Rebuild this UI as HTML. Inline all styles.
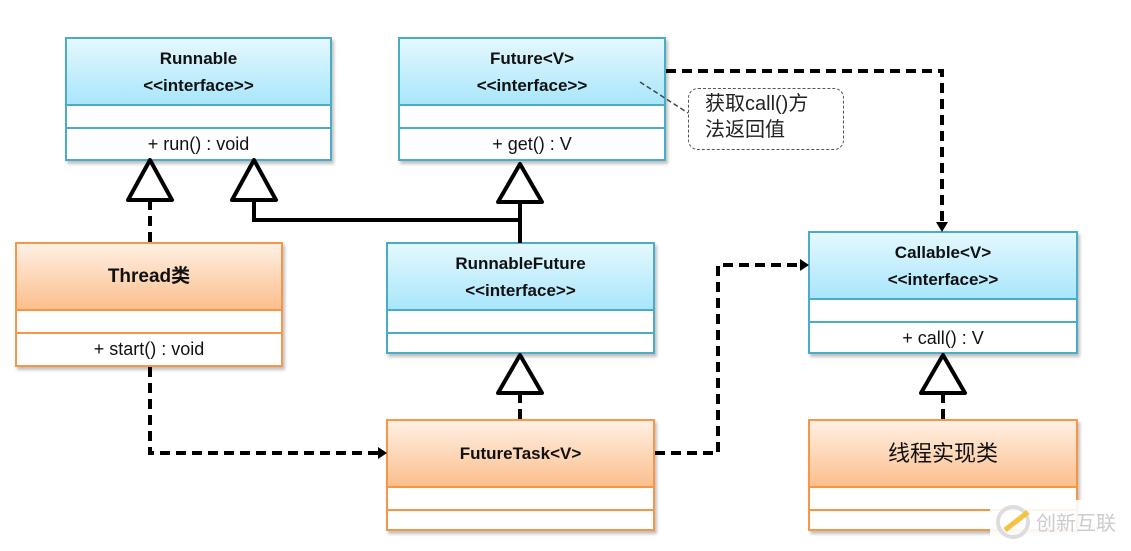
<!DOCTYPE html>
<html><head><meta charset="utf-8"><style>
body{margin:0;width:1131px;height:551px;background:#fff;position:relative;overflow:hidden;font-family:"Liberation Sans","Noto Sans CJK SC",sans-serif}
.b{position:absolute;box-sizing:border-box;border:2px solid #4bacc6;box-shadow:2px 3px 3px rgba(0,0,0,.25);background:#fff}
.b.o{border-color:#f79646}
.h{box-sizing:border-box;background:linear-gradient(#e4f8fe,#a9e6fb);border-bottom:2px solid #4bacc6;display:flex;flex-direction:column;justify-content:center;align-items:center;font-weight:bold;font-size:17px;line-height:27px;color:#111}
.o .h{background:linear-gradient(#fff0e4,#fbbf8d);border-bottom-color:#f79646}
.e{box-sizing:border-box;border-bottom:2px solid #4bacc6}
.o .e{border-bottom-color:#f79646}
.m{text-align:center;font-size:18px;color:#111;line-height:30px}
</style></head><body>
<div class="b" style="left:65px;top:37px;width:267px;height:124px"><div class="h" style="height:67px">Runnable<span>&lt;&lt;interface&gt;&gt;</span></div><div class="e" style="height:23px"></div><div class="m">+ run() : void</div></div>
<div class="b" style="left:398px;top:37px;width:268px;height:124px"><div class="h" style="height:67px">Future&lt;V&gt;<span>&lt;&lt;interface&gt;&gt;</span></div><div class="e" style="height:23px"></div><div class="m">+ get() : V</div></div>
<div class="b o" style="left:15px;top:242px;width:268px;height:125px"><div class="h" style="height:67px;font-size:19px">Thread类</div><div class="e" style="height:23px"></div><div class="m">+ start() : void</div></div>
<div class="b" style="left:386px;top:242px;width:269px;height:112px"><div class="h" style="height:67px">RunnableFuture<span>&lt;&lt;interface&gt;&gt;</span></div><div class="e" style="height:23px"></div></div>
<div class="b o" style="left:386px;top:419px;width:269px;height:112px"><div class="h" style="height:67px">FutureTask&lt;V&gt;</div><div class="e" style="height:23px"></div></div>
<div class="b" style="left:808px;top:231px;width:270px;height:123px"><div class="h" style="height:67px">Callable&lt;V&gt;<span>&lt;&lt;interface&gt;&gt;</span></div><div class="e" style="height:23px"></div><div class="m">+ call() : V</div></div>
<div class="b o" style="left:808px;top:419px;width:270px;height:112px"><div class="h" style="height:67px;font-size:22px;font-weight:normal">线程实现类</div><div class="e" style="height:23px"></div></div>
<div style="position:absolute;left:688px;top:88px;width:156px;height:62px;border:1.5px dashed #555;border-radius:10px;box-sizing:border-box;padding:2px 0 0 16px;font-size:20px;line-height:26px;color:#222">获取call()方<br>法返回值</div>
<svg width="1131" height="551" style="position:absolute;left:0;top:0">
<g fill="none" stroke="#000" stroke-width="4">
<path d="M150 200V243" stroke-dasharray="10 6"/>
<path d="M254 200V220H520M520 200V243"/>
<path d="M520 393V420M943 393V420" stroke-dasharray="10 6"/>
<path d="M666 71H942V225" stroke-dasharray="10 6"/>
<path d="M655 453H718V265H802" stroke-dasharray="10 6"/>
<path d="M150 367V453H380" stroke-dasharray="10 6"/>
<path d="M128 200L150 160L172 200Z M232 200L254 160L276 200Z M498 202L520 164L542 202Z M498 393L520 355L542 393Z M921 393L943 355L965 393Z" fill="#fff" stroke-linejoin="round"/>
</g>
<path d="M936 222L942 232L948 222Z M800 259L809 265L800 271Z M378 447L387 453L378 459Z" fill="#000"/>
<path d="M640 82L688 113" stroke="#444" stroke-width="1.5" stroke-dasharray="5 3" fill="none"/>
<rect x="990" y="500" width="141" height="51" fill="#fff" opacity=".9"/>
<circle cx="1013" cy="522" r="15" fill="none" stroke="#ddd" stroke-width="4"/>
<path d="M1005 530L1028 512" stroke="#f5c242" stroke-width="5"/>
<text x="1036" y="530" font-size="20" fill="#ccc" font-family="Noto Sans CJK SC">创新互联</text>
</svg>
</body></html>
